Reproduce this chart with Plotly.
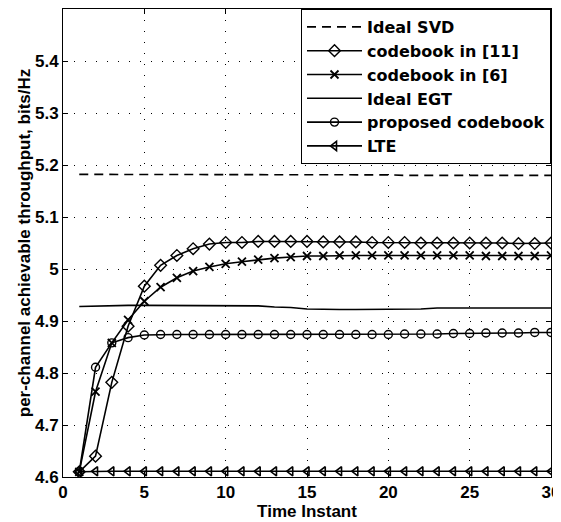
import plotly.graph_objects as go

time_instant = list(range(1, 31))

ideal_svd = [5.182]*10 + [5.181]*10 + [5.180]*10
codebook_11 = [4.610, 4.640, 4.782, 4.890, 4.967, 5.007, 5.026, 5.039, 5.048, 5.051,
               5.051, 5.053, 5.053, 5.053, 5.053, 5.052, 5.052, 5.052, 5.051, 5.051,
               5.051, 5.050, 5.050, 5.050, 5.050, 5.050, 5.050, 5.049, 5.049, 5.050]
codebook_6 = [4.610, 4.764, 4.858, 4.902, 4.938, 4.965, 4.983, 4.996, 5.004, 5.010,
              5.014, 5.018, 5.021, 5.023, 5.025, 5.025, 5.026, 5.026, 5.026, 5.026,
              5.026, 5.026, 5.026, 5.026, 5.026, 5.025, 5.025, 5.025, 5.025, 5.026]
ideal_egt = [4.928, 4.929, 4.930, 4.930, 4.930, 4.930, 4.930, 4.930, 4.930, 4.930,
             4.930, 4.929, 4.927, 4.926, 4.923, 4.922, 4.922, 4.922, 4.922, 4.922,
             4.922, 4.923, 4.925, 4.925, 4.925, 4.925, 4.925, 4.925, 4.925, 4.925]
proposed = [4.610, 4.811, 4.858, 4.868, 4.873, 4.874, 4.874, 4.874, 4.874, 4.874,
            4.874, 4.874, 4.874, 4.874, 4.874, 4.874, 4.874, 4.874, 4.874, 4.874,
            4.875, 4.875, 4.875, 4.876, 4.876, 4.877, 4.877, 4.877, 4.878, 4.878]
lte = [4.610] + [4.611]*29

x_ticks = [0, 5, 10, 15, 20, 25, 30]
y_ticks = [4.6, 4.7, 4.8, 4.9, 5.0, 5.1, 5.2, 5.3, 5.4]
y_tick_labels = ["4.6", "4.7", "4.8", "4.9", "5", "5.1", "5.2", "5.3", "5.4"]

FONT = "Liberation Sans, Arial, Helvetica, sans-serif"
LEG_FONT = "DejaVu Sans, Verdana, sans-serif"
LW = 1.6

fig = go.Figure()
fig.add_trace(go.Scatter(x=time_instant, y=ideal_svd, mode="lines", name="Ideal SVD",
                         line=dict(color="black", width=LW, dash="9px,6px")))
fig.add_trace(go.Scatter(x=time_instant, y=codebook_11, mode="lines+markers", name="codebook in [11]",
                         line=dict(color="black", width=LW),
                         marker=dict(symbol="diamond-open", size=9, color="black", line=dict(width=1.4))))
fig.add_trace(go.Scatter(x=time_instant, y=codebook_6, mode="lines+markers", name="codebook in [6]",
                         line=dict(color="black", width=LW),
                         marker=dict(symbol="x-thin-open", size=8, color="black", line=dict(width=1.8))))
fig.add_trace(go.Scatter(x=time_instant, y=ideal_egt, mode="lines", name="Ideal EGT",
                         line=dict(color="black", width=LW)))
fig.add_trace(go.Scatter(x=time_instant, y=proposed, mode="lines+markers", name="proposed codebook",
                         line=dict(color="black", width=LW),
                         marker=dict(symbol="circle-open", size=8, color="black", line=dict(width=1.4))))
fig.add_trace(go.Scatter(x=time_instant, y=lte, mode="lines+markers", name="LTE",
                         line=dict(color="black", width=LW),
                         marker=dict(symbol="triangle-left-open", size=8, color="black", line=dict(width=1.6))))

axis_common = dict(
    showline=True, linecolor="black", linewidth=1, mirror="ticks",
    ticks="inside", ticklen=5, tickcolor="black", tickwidth=1,
    showgrid=True, gridcolor="black", gridwidth=1, griddash="1px,10px",
    zeroline=False, automargin=False,
    tickfont=dict(family=FONT, size=17, color="black", weight="bold"),
)

# the page body has an 8px margin, so the figure is sized/offset to compensate
fig.update_layout(
    width=553, height=514,
    margin=dict(l=55, r=10, t=1, b=45),
    paper_bgcolor="white", plot_bgcolor="white",
    font=dict(family=FONT, color="black"),
    xaxis=dict(range=[0, 30], tickvals=x_ticks,
               title=dict(text="Time Instant", font=dict(family=FONT, size=17, color="black", weight="bold"), standoff=0),
               **axis_common),
    yaxis=dict(range=[4.6, 5.5], tickvals=y_ticks, ticktext=y_tick_labels,
               title=dict(text="per-channel achievable throughput, bits/Hz",
                          font=dict(family=FONT, size=17, color="black", weight="bold"), standoff=0),
               **axis_common),
    legend=dict(x=1, y=1, xanchor="right", yanchor="top",
                bgcolor="white", bordercolor="black", borderwidth=1,
                font=dict(family=LEG_FONT, size=16, color="black", weight="bold"),
                itemwidth=55, tracegroupgap=0),
    showlegend=True,
)

fig.write_html("out.html")
